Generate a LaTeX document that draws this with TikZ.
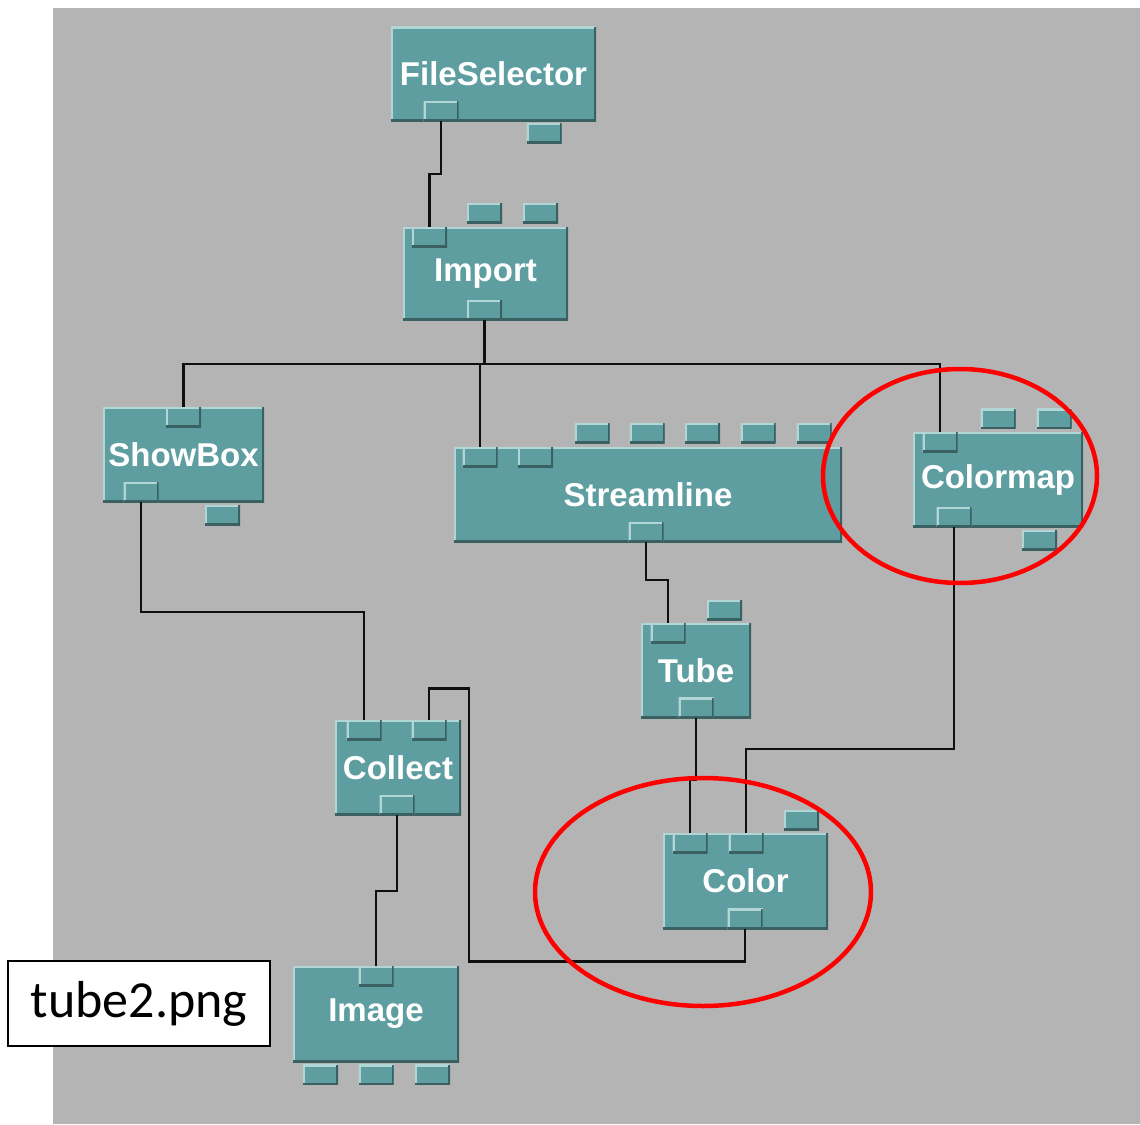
\documentclass[tikz,border=0pt]{standalone}
\usepackage{fontspec}
\newfontfamily\modfont{Liberation Sans}
\newfontfamily\labfont{Carlito}
\definecolor{bggray}{RGB}{180,180,180}
\definecolor{modteal}{RGB}{95,158,160}
\definecolor{edgelight}{RGB}{178,214,214}
\definecolor{edgedark}{RGB}{58,96,98}
\definecolor{wire}{RGB}{15,15,15}
\tikzset{
  bev/.style={fill=modteal, inner sep=0pt, outer sep=0pt,
    path picture={
      \draw[line width=4pt, edgelight] (path picture bounding box.south west) -- (path picture bounding box.north west) -- (path picture bounding box.north east);
      \draw[line width=4pt, edgedark] (path picture bounding box.south west) -- (path picture bounding box.south east) -- (path picture bounding box.north east);
    }},
  module/.style={bev, text=white, font=\modfont\bfseries\fontsize{33pt}{36pt}\selectfont},
  port/.style={bev, minimum width=35pt, minimum height=20pt},
  wireline/.style={draw=wire, line width=2.6pt},
  mark ring/.style={draw=red, line width=4.5pt},
}
\begin{document}
\begin{tikzpicture}[x=1pt,y=-1pt]
\useasboundingbox (0,0) rectangle (1140,1124);
\fill[white] (0,0) rectangle (1140,1124);
\fill[bggray] (53,8) rectangle (1140,1124);

% modules
\node[module, minimum width=205pt, minimum height=94pt] (fs) at (493.5,74) {FileSelector};
\node[module, minimum width=165pt, minimum height=93pt] (imp) at (485.5,273.5) {Import};
\node[module, minimum width=161pt, minimum height=95pt] (sb) at (183.5,454.5) {ShowBox};
\node[module, minimum width=388pt, minimum height=95pt] (sl) at (648,494.5) {Streamline};
\node[module, minimum width=170pt, minimum height=95pt] (cm) at (998,479.5) {Colormap};
\node[module, minimum width=110pt, minimum height=95pt] (tube) at (696,670.5) {Tube};
\node[module, minimum width=126pt, minimum height=95pt] (col) at (398,767.5) {Collect};
\node[module, minimum width=165pt, minimum height=96pt] (clr) at (745.5,881) {Color};
\node[module, minimum width=166pt, minimum height=96pt] (img) at (376,1014) {Image};

% ports
\node[port] (fs-o) at (441,111) {};
\node[port] (fs-x) at (544,133) {};
\node[port] (imp-i1) at (429.5,237) {};
\node[port] (imp-x1) at (484.5,213) {};
\node[port] (imp-x2) at (540.5,213) {};
\node[port] (imp-o) at (484.5,310) {};
\node[port] (sb-i) at (183.5,417) {};
\node[port] (sb-o) at (141,492) {};
\node[port] (sb-x) at (222.5,515) {};
\node[port] (sl-i1) at (480,457) {};
\node[port] (sl-i2) at (535.5,457) {};
\node[port] (sl-x1) at (592,433) {};
\node[port] (sl-x2) at (647,433) {};
\node[port] (sl-x3) at (702.5,433) {};
\node[port] (sl-x4) at (758,433) {};
\node[port] (sl-x5) at (814,433) {};
\node[port] (sl-o) at (646,532) {};
\node[port] (cm-i) at (940,442) {};
\node[port] (cm-x1) at (998,418.5) {};
\node[port] (cm-x2) at (1054,418.5) {};
\node[port] (cm-o) at (954,517) {};
\node[port] (cm-x3) at (1039.5,540) {};
\node[port] (tube-i) at (668,633) {};
\node[port] (tube-x) at (724.5,610) {};
\node[port] (tube-o) at (696,707.5) {};
\node[port] (col-i1) at (364,730) {};
\node[port] (col-i2) at (429,730) {};
\node[port] (col-o) at (397,805) {};
\node[port] (clr-i1) at (690,843) {};
\node[port] (clr-i2) at (746,843) {};
\node[port] (clr-x) at (801.5,820) {};
\node[port] (clr-o) at (745,918.5) {};
\node[port] (img-i) at (376,976) {};
\node[port] (img-x1) at (320.5,1074.5) {};
\node[port] (img-x2) at (376,1074.5) {};
\node[port] (img-x3) at (432.5,1074.5) {};

% connectors
\coordinate (bus) at (484.5,364);
\draw[wireline] (fs-o.south) -- ++(0,53) -| (imp-i1.north);
\draw[wireline] (imp-o.south) -- (bus);
\draw[wireline] (sb-i.north) |- (bus) -| (cm-i.north);
\draw[wireline] (sl-i1.north) -- (sl-i1.north |- bus);
\draw[wireline] (sb-o.south) -- ++(0,110) -| (col-i1.north);
\draw[wireline] (sl-o.south) -- ++(0,38) -| (tube-i.north);
\draw[wireline] (tube-o.south) -- ++(0,62) -| (clr-i1.north);
\draw[wireline] (cm-o.south) -- ++(0,222) -| (clr-i2.north);
\draw[wireline] (clr-o.south) -- ++(0,33) -| ++(-276,-273) -| (col-i2.north);
\draw[wireline] (col-o.south) -- ++(0,76) -| (img-i.north);

% red marks
\draw[mark ring] (960,476) ellipse [x radius=137pt, y radius=107pt];
\draw[mark ring] (703,892) ellipse [x radius=168pt, y radius=114pt];

% label
\node[draw=black, fill=white, line width=2pt, minimum width=262pt, minimum height=85pt, inner sep=0pt,
  font=\labfont\fontsize{52pt}{58pt}\selectfont] (lbl) at (139,1003.5) {tube2.png};
\end{tikzpicture}
\end{document}
